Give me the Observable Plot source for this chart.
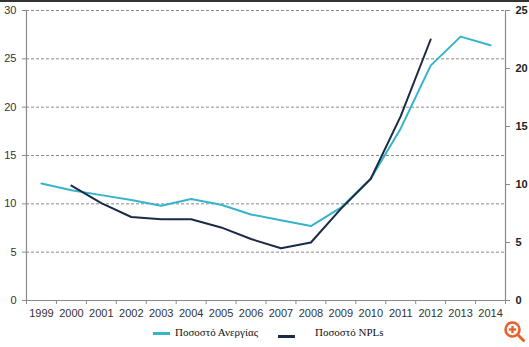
<!DOCTYPE html>
<html>
<head>
<meta charset="utf-8">
<script src="https://cdn.jsdelivr.net/npm/d3@7"></script>
<script src="https://cdn.jsdelivr.net/npm/@observablehq/plot@0.6"></script>
<style>
  html, body { margin: 0; padding: 0; background: #fff; }
  #wrap { position: relative; width: 529px; height: 347px; overflow: hidden; }
  #topline { position: absolute; left: 0; top: 0; width: 529px; height: 2px; background: #333; }
  #chart { position: absolute; left: 0; top: 0; }
  .leg { position: absolute; font-family: "Liberation Serif", "DejaVu Serif", serif; font-size: 11px; color: #111; white-space: nowrap; }
  .sw { position: absolute; height: 3px; }
  #icon { position: absolute; left: 503px; top: 320px; }
</style>
</head>
<body>
<div id="wrap">
  <div id="chart"></div>
  <div id="topline"></div>
  <div class="sw" style="left:153px;top:332px;width:17px;background:#36b4c9;"></div>
  <div class="leg" style="left:175px;top:326px;">Ποσοστό Ανεργίας</div>
  <div class="sw" style="left:278px;top:335px;width:17px;background:#1b2a47;"></div>
  <div class="leg" style="left:315px;top:326px;">Ποσοστό NPLs</div>
  <svg id="icon" width="24" height="24" viewBox="0 0 24 24">
    <circle cx="9.5" cy="9.5" r="7" fill="none" stroke="#e8622e" stroke-width="2.6"/>
    <line x1="9.5" y1="5.8" x2="9.5" y2="13.2" stroke="#e8622e" stroke-width="2.4"/>
    <line x1="5.8" y1="9.5" x2="13.2" y2="9.5" stroke="#e8622e" stroke-width="2.4"/>
    <line x1="14.8" y1="14.8" x2="20.5" y2="20.5" stroke="#e8622e" stroke-width="3" stroke-linecap="round"/>
  </svg>
</div>
<script>
const years = [1999,2000,2001,2002,2003,2004,2005,2006,2007,2008,2009,2010,2011,2012,2013,2014];
const unemployment = [12.1,11.4,10.9,10.4,9.8,10.5,9.9,8.9,8.3,7.7,9.6,12.6,17.8,24.3,27.3,26.4];
const nplYears = [2000,2001,2002,2003,2004,2005,2006,2007,2008,2009,2010,2011,2012];
const npl = [9.9,8.4,7.2,7.0,7.0,6.3,5.3,4.5,5.0,7.9,10.5,15.9,22.5];
const leftTicks = [0,5,10,15,20,25,30];
const rightTicks = [0,5,10,15,20,25];

const k = 30 / 25; // right-axis value to left-axis scale
const unempData = years.map((y, i) => ({year: y, v: unemployment[i]}));
const nplData = nplYears.map((y, i) => ({year: y, v: npl[i] * k}));
const bounds = d3.range(years[0] - 0.5, years[years.length - 1] + 1, 1);

const plot = Plot.plot({
  width: 529,
  height: 322,
  marginTop: 10,
  marginBottom: 22,
  marginLeft: 26,
  marginRight: 24,
  style: {fontFamily: "Liberation Sans, Arial, sans-serif", fontSize: "11px", color: "#333", background: "transparent"},
  x: {domain: [1998.5, 2014.5]},
  y: {domain: [0, 30]},
  marks: [
    Plot.ruleY(leftTicks.filter(d => d > 0), {stroke: "#8a8a8a", strokeDasharray: "3,2", strokeWidth: 1, strokeOpacity: 1}),
    Plot.ruleX([1998.5], {stroke: "#8a8a8a", strokeWidth: 1.2}),
    Plot.ruleX([2014.5], {stroke: "#8a8a8a", strokeWidth: 1.2}),
    Plot.ruleY([0], {stroke: "#8a8a8a", strokeWidth: 1.2}),
    Plot.axisY({ticks: leftTicks, tickSize: 4, tickPadding: 6, label: null, stroke: "#8a8a8a", tickFormat: d => d}),
    Plot.axisY({anchor: "right", ticks: rightTicks.map(d => d * k), tickSize: 4, tickPadding: 6, label: null, stroke: "#8a8a8a", fontWeight: "bold", fill: "#222", tickFormat: d => Math.round(d / k)}),
    Plot.axisX({ticks: bounds, tickSize: 4, tickFormat: () => "", label: null, stroke: "#8a8a8a"}),
    Plot.axisX({ticks: years, tickSize: 0, tickPadding: 9, label: null, tickFormat: d => String(d)}),
    Plot.line(unempData, {x: "year", y: "v", stroke: "#36b4c9", strokeWidth: 2}),
    Plot.line(nplData, {x: "year", y: "v", stroke: "#1b2a47", strokeWidth: 2})
  ]
});
document.getElementById("chart").appendChild(plot);
</script>
</body>
</html>
